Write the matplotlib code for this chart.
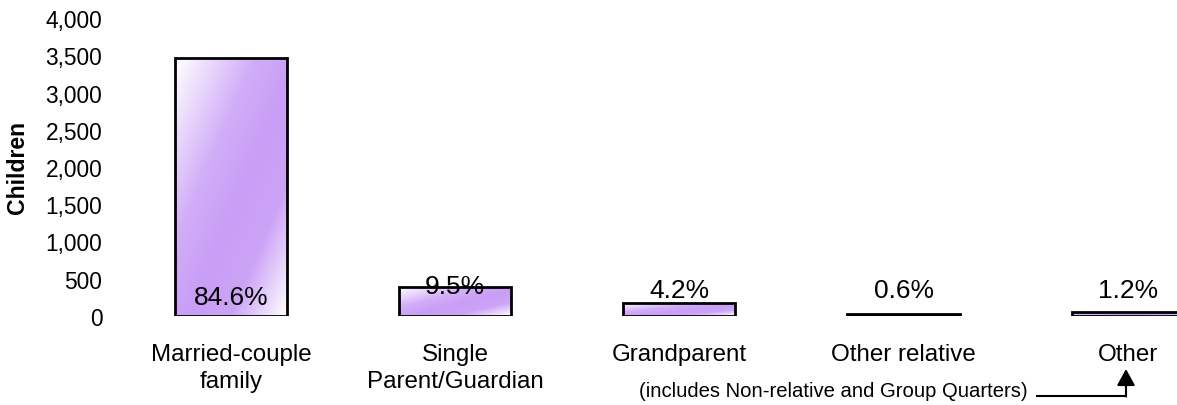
import numpy as np
import matplotlib.pyplot as plt
from matplotlib.colors import LinearSegmentedColormap

plt.rcParams['font.family'] = ['Liberation Sans', 'DejaVu Sans']

categories = ["Married-couple\nfamily", "Single\nParent/Guardian", "Grandparent",
              "Other relative", "Other"]
children = [3463, 389, 172, 25, 49]
pct_labels = ["84.6%", "9.5%", "4.2%", "0.6%", "1.2%"]
label_y = [260, 400, 350, 350, 350]
yticks = [0, 500, 1000, 1500, 2000, 2500, 3000, 3500, 4000]

fig = plt.figure(figsize=(11.77, 4.06), dpi=100)
ax = fig.add_axes([119 / 1177, 89 / 406, 1058 / 1177, 298 / 406])

x = np.arange(len(categories))
bars = ax.bar(x, children, width=0.5, color='none', edgecolor='black', linewidth=2, zorder=3)

# diagonal gradient: white top-left, purple band bottom-left -> top-right, white bottom-right
cmap = LinearSegmentedColormap.from_list(
    "lav", [(0, "#ffffff"), (0.35, "#d2aef8"), (0.55, "#c99ef6"), (0.75, "#cca4f7"), (1, "#ffffff")])
gx, gy = np.meshgrid(np.linspace(0, 1, 60), np.linspace(0, 1, 200))
grad = (gx + gy) / 2
for b in bars:
    x0, w, h = b.get_x(), b.get_width(), b.get_height()
    im = ax.imshow(grad, cmap=cmap, extent=[x0, x0 + w, 0, h], origin='upper',
                   aspect='auto', zorder=2, interpolation='bilinear')
    im.set_clip_path(b)

for i, lab in enumerate(pct_labels):
    ax.text(x[i], label_y[i], lab, ha='center', va='center', fontsize=19, zorder=4)

ax.set_xlim(-0.5, 4.22)
ax.set_ylim(0, 4000)
ax.set_yticks(yticks)
ax.set_yticklabels([f"{v:,}" for v in yticks], fontsize=16.4)
ax.set_xticks(x)
ax.set_xticklabels(categories, fontsize=17.4, linespacing=1.3)
ax.tick_params(length=0, axis='both')
ax.tick_params(axis='y', pad=12)
ax.tick_params(axis='x', pad=19.5)
for s in ax.spines.values():
    s.set_visible(False)
ax.set_ylabel("Children", fontsize=16.6, fontweight='bold')
ax.yaxis.set_label_coords((29 - 119) / 1058, 0.5)

fig.text(1028 / 1177, 1 - 392 / 406, "(includes Non-relative and Group Quarters)",
         ha='right', va='center', fontsize=14.6)
fig.add_artist(plt.Line2D([1037 / 1177, 1126 / 1177], [1 - 397 / 406, 1 - 397 / 406],
                          color='black', lw=1.5, transform=fig.transFigure))
ax.annotate("", xy=(1126 / 1177, 1 - 370 / 406), xycoords='figure fraction',
            xytext=(1126 / 1177, 1 - 397.5 / 406), textcoords='figure fraction',
            arrowprops=dict(arrowstyle='-|>,head_length=1.0,head_width=0.55',
                            color='black', lw=1.5, shrinkA=0, shrinkB=0),
            annotation_clip=False)

fig.savefig("out.png", dpi=100)
